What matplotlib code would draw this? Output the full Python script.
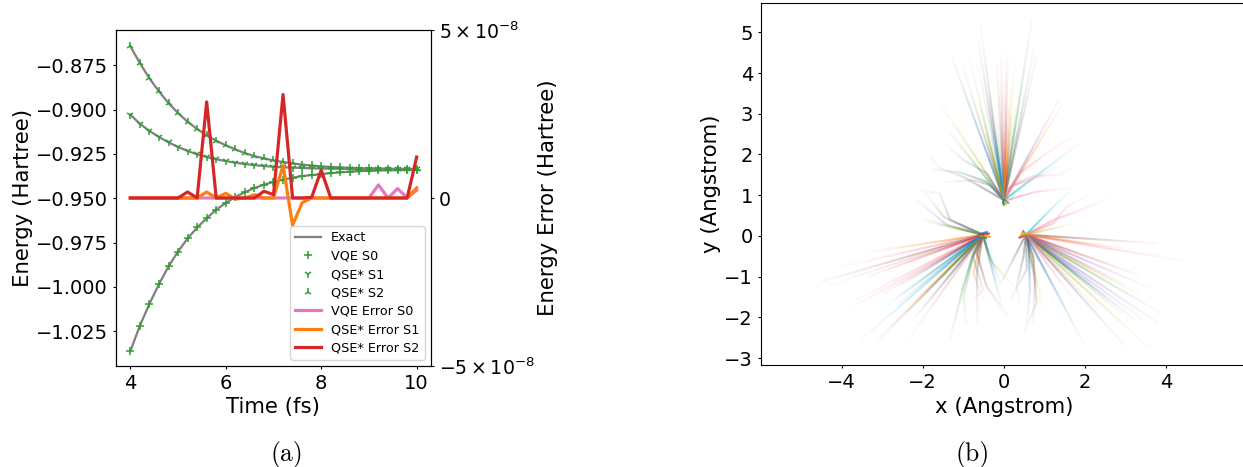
import numpy as np
import matplotlib
matplotlib.use("Agg")
import matplotlib.pyplot as plt
from matplotlib.collections import LineCollection
from matplotlib.colors import to_rgb

# ---------- panel (a) data ----------
time_fs = [4.0, 4.2, 4.4, 4.6, 4.8, 5.0, 5.2, 5.4, 5.6, 5.8, 6.0, 6.2, 6.4, 6.6, 6.8, 7.0,
           7.2, 7.4, 7.6, 7.8, 8.0, 8.2, 8.4, 8.6, 8.8, 9.0, 9.2, 9.4, 9.6, 9.8, 10.0]
energy_s0 = [-1.0363, -1.0220, -1.0096, -0.9985, -0.9885, -0.9801, -0.9727, -0.9665, -0.9613, -0.9564,
             -0.9527, -0.9493, -0.9466, -0.9442, -0.9423, -0.9408, -0.9395, -0.9384, -0.9375, -0.9369,
             -0.9364, -0.9358, -0.9354, -0.9350, -0.9347, -0.9345, -0.9343, -0.9342, -0.9341, -0.9340, -0.9339]
energy_s1 = [-0.9028, -0.9079, -0.9120, -0.9154, -0.9184, -0.9211, -0.9233, -0.9252, -0.9267, -0.9280,
             -0.9290, -0.9299, -0.9307, -0.9313, -0.9318, -0.9322, -0.9325, -0.9327, -0.9329, -0.9331,
             -0.9332, -0.9333, -0.9334, -0.9334, -0.9335, -0.9335, -0.9335, -0.9336, -0.9336, -0.9336, -0.9336]
energy_s2 = [-0.8641, -0.8737, -0.8823, -0.8897, -0.8963, -0.9019, -0.9068, -0.9109, -0.9145, -0.9175,
             -0.9201, -0.9224, -0.9245, -0.9262, -0.9275, -0.9286, -0.9295, -0.9303, -0.9310, -0.9315,
             -0.9320, -0.9323, -0.9326, -0.9328, -0.9330, -0.9331, -0.9332, -0.9333, -0.9334, -0.9334, -0.9335]
error_s0 = [0, 0, 0, 0, 0, 0, 0, 0, 0, 0, 0, 0, 0, 0, 0, 0,
            0, 0, 0, 0, 0, 0, 0, 0, 0, 0, 0.39e-8, 0, 0.28e-8, 0, 0.23e-8]
error_s1 = [0, 0, 0, 0, 0, 0, 0, 0, 0.18e-8, 0, 0.14e-8, -0.03e-8, 0, 0.10e-8, 0, 0,
            0.97e-8, -0.81e-8, -0.14e-8, 0, 0, 0, 0, 0, 0, 0, 0, 0, 0, 0, 0.30e-8]
error_s2 = [0, 0, 0, 0, 0, 0, 0.18e-8, 0, 2.86e-8, 0, 0, 0, 0, 0, 0.20e-8, 0.10e-8,
            3.08e-8, 0, 0, 0.02e-8, 0.83e-8, 0, 0, 0, 0, 0, 0, 0, 0, 0, 1.22e-8]
x_ticks_a = [4, 6, 8, 10]
y_ticks_a = [-1.025, -1.000, -0.975, -0.950, -0.925, -0.900, -0.875]
y_ticks_err = [-5e-8, 0, 5e-8]
y_tick_err_labels = [r"$-5\times10^{-8}$", "0", r"$5\times10^{-8}$"]
legend_labels = ["Exact", "VQE S0", "QSE* S1", "QSE* S2", "VQE Error S0", "QSE* Error S1", "QSE* Error S2"]

# ---------- panel (b) data: (x, y) read along each trajectory, outer end first ----------
origin_top = (0.0, 0.88)
origin_left = (-0.52, 0.03)
origin_right = (0.54, 0.03)

top_paths = [
    [(-1.29, 4.40)], [(-0.99, 4.09)], [(-0.86, 4.38)], [(-0.63, 4.77)], [(-0.59, 5.22)], [(-0.67, 4.36)],
    [(-0.18, 4.28)], [(-0.07, 4.48)], [(0.03, 4.40)], [(0.09, 4.36)], [(0.25, 4.06)], [(0.68, 5.30)],
    [(0.75, 4.63)], [(0.80, 4.40)], [(1.36, 3.35)], [(1.44, 3.24)], [(-1.56, 3.24)], [(-1.35, 2.56)],
    [(-1.45, 2.26), (-1.00, 1.87), (-0.43, 1.54)],
    [(-1.82, 1.64), (-1.08, 1.56), (-0.43, 1.33)],
    [(-1.45, 1.32), (-0.76, 1.37), (-0.34, 1.25)],
    [(-1.82, 1.95), (-1.58, 1.66), (-1.00, 1.45)],
    [(1.67, 2.42), (1.05, 2.03), (0.39, 1.54)],
    [(1.86, 2.27)],
    [(1.36, 1.72), (0.80, 1.42), (0.15, 1.21)],
    [(1.71, 1.70), (1.38, 1.50), (0.72, 1.47), (0.15, 1.21)],
    [(1.67, 1.17), (0.80, 1.09), (0.15, 0.90)],
    [(-0.40, 3.20)], [(-0.35, 3.50)], [(-0.60, 3.20)], [(-0.10, 3.60)], [(0.10, 3.20)], [(0.30, 3.20)],
    [(-0.45, 2.50)], [(0.20, 3.00)], [(0.15, 3.50)], [(-0.20, 3.00)],
]
top_colors = ["blue", "gray", "olive", "brown", "gray", "ltblue", "orange", "gray", "pink", "red", "olive", "green",
              "gray", "gray", "purple", "orange", "olive", "green", "purple", "green", "purple", "gray", "pink",
              "cyan", "pink", "pink", "pink", "cyan", "blue", "green", "purple", "orange", "gray", "orange", "red",
              "orange", "cyan"]

left_paths = [
    [(-3.34, -0.40)], [(-4.11, -0.78)], [(-4.49, -1.12)], [(-4.27, -1.20)], [(-3.38, -1.01)], [(-3.83, -1.80)],
    [(-3.67, -1.59)], [(-2.97, -1.42)], [(-3.53, -2.55)], [(-3.18, -2.61)], [(-3.05, -2.53)], [(-2.37, -2.55)],
    [(-2.68, -1.57)], [(-2.64, -1.69)], [(-2.05, -1.86)],
    [(-1.35, -2.59), (-1.00, -1.24), (-0.76, -0.43)],
    [(-0.92, -2.17), (-1.00, -1.49), (-0.76, -0.51)],
    [(-0.65, -2.14), (-0.67, -0.92)],
    [(-0.47, -1.65), (-0.76, -0.92)],
    [(-0.76, -1.57), (-0.51, -1.33), (-0.76, -0.51)],
    [(0.07, -1.94), (-0.43, -1.24), (-0.67, -0.43)],
    [(-0.06, -1.69)],
    [(0.27, -1.28), (-0.34, -0.59)],
    [(-0.10, -1.16), (-0.43, -0.26)],
    [(-2.15, 0.88), (-1.41, 0.27)],
    [(-1.95, 1.09), (-1.49, 0.47)],
    [(-1.99, 1.09), (-1.58, 1.05), (-1.33, 0.39)],
    [(-2.03, 0.43)], [(-1.90, 0.35)],
    [(-2.90, -1.70)], [(-2.20, -1.60)], [(-2.40, -1.90)], [(-2.20, -2.00)], [(-2.50, -1.20)],
]
left_colors = ["orange", "pink", "brown", "pink", "red", "pink", "pink", "red", "cyan", "orange", "gray", "pink",
               "gray", "blue", "green", "green", "gray", "gray", "orange", "gray", "brown", "blue", "olive", "blue",
               "purple", "green", "purple", "olive", "green", "cyan", "orange", "green", "purple", "blue"]

right_paths = [
    [(3.78, -0.18)], [(4.50, -0.63)], [(3.31, -0.96)], [(3.60, -1.28)], [(3.84, -1.88)], [(3.80, -2.14)],
    [(3.43, -2.06)], [(3.23, -2.06)], [(2.98, -2.70)], [(3.58, -2.76)], [(1.97, -2.65)], [(1.75, -1.61)],
    [(0.97, -1.78)],
    [(0.72, -2.14), (0.76, -1.08)],
    [(0.49, -2.37), (0.80, -1.65), (0.72, -0.51)],
    [(0.56, -2.14), (0.64, -1.33), (0.60, -0.10)],
    [(0.16, -1.55), (0.56, -0.83)],
    [(0.39, -1.65), (0.31, -1.24), (0.48, -0.51)],
    [(-0.14, -1.28)],
    [(1.63, 1.13)],
    [(2.08, 1.01), (1.54, 0.72), (1.22, 0.31)],
    [(2.57, 0.92), (1.79, 0.60), (1.22, 0.39)],
    [(1.75, 0.31)], [(3.35, -1.45)], [(3.19, -0.34)], [(2.90, -1.90)], [(2.50, -1.50)], [(2.30, -1.80)],
    [(3.00, -1.20)],
]
right_colors = ["brown", "pink", "red", "purple", "green", "purple", "purple", "blue", "gray", "olive", "blue", "pink",
                "olive", "gray", "brown", "blue", "gray", "gray", "gray", "cyan", "pink", "pink", "olive", "orange",
                "orange", "green", "gray", "pink", "purple"]

# short strokes at the three cluster tips: (x0, y0, x1, y1)
tip_strokes = [(-0.63, 0.02, -0.35, 0.06), (-0.60, 0.00, -0.33, -0.02), (-0.58, 0.05, -0.40, 0.10),
               (-0.55, -0.02, -0.42, -0.06), (0.56, 0.03, 0.36, -0.05), (0.55, 0.01, 0.40, 0.02),
               (0.52, 0.05, 0.46, 0.14), (0.60, 0.04, 0.42, 0.08), (0.00, 0.90, -0.03, 0.78),
               (0.02, 0.88, 0.12, 0.80), (-0.02, 0.86, 0.00, 0.74), (0.03, 0.85, 0.05, 0.76)]
tip_colors = ["red", "orange", "blue", "green", "red", "orange", "gray", "olive", "blue", "gray", "green", "olive"]

x_ticks_b = [-4, -2, 0, 2, 4]
y_ticks_b = [-3, -2, -1, 0, 1, 2, 3, 4, 5]

# ---------- styling ----------
W, H = 1243, 467
palette = {"blue": "#1f77b4", "ltblue": "#9ec7e6", "orange": "#ff7f0e", "green": "#2ca02c", "red": "#d62728",
           "purple": "#9467bd", "brown": "#8c564b", "pink": "#f28aa0", "gray": "#7f7f7f", "olive": "#bcbd22",
           "cyan": "#17becf"}
LABEL = 15.3
plt.rcParams.update({"font.size": 14, "font.family": "DejaVu Sans",
                     "xtick.major.size": 2.5, "ytick.major.size": 2.5,
                     "xtick.major.pad": 3.4, "ytick.major.pad": 3.2})
fig = plt.figure(figsize=(W / 100, H / 100), dpi=100)


def axes_px(x0, x1, top, bottom):
    return fig.add_axes([x0 / W, 1 - bottom / H, (x1 - x0) / W, (bottom - top) / H])


# ---------- panel (a) ----------
ax = axes_px(116, 431, 30, 366)
ax2 = ax.twinx()
exact = None
for curve in (energy_s0, energy_s1, energy_s2):
    exact, = ax.plot(time_fs, curve, color="#7f7f7f", lw=1.6, zorder=1)
ms_kw = dict(ls="none", color="#2ca02c", ms=6, mew=1.1, zorder=2)
m0, = ax.plot(time_fs, energy_s0, marker="+", **ms_kw)
m1, = ax.plot(time_fs, energy_s1, marker="1", **ms_kw)
m2, = ax.plot(time_fs, energy_s2, marker="2", **ms_kw)
e0, = ax2.plot(time_fs, error_s0, color="#e377c2", lw=2.3)
e1, = ax2.plot(time_fs, error_s1, color="#ff7f0e", lw=2.3)
e2, = ax2.plot(time_fs, error_s2, color="#d62728", lw=2.3)
ax.set_xlim(3.7, 10.3)
ax.set_ylim(-1.0447, -0.855)
ax.set_xticks(x_ticks_a)
ax.set_yticks(y_ticks_a)
ax.set_yticklabels([f"\u2212{abs(v):.3f}" for v in y_ticks_a])
ax.set_xlabel("Time (fs)", fontsize=LABEL)
ax.xaxis.set_label_coords((273 - 116) / 315, (366 - 407) / 336)
ax.xaxis.label.set_va("center")
ax.set_ylabel("Energy (Hartree)", fontsize=LABEL)
ax.yaxis.set_label_coords((23 - 116) / 315, 0.5)
ax.yaxis.label.set_va("center")
ax2.set_ylim(-5e-8, 5e-8)
ax2.set_yticks(y_ticks_err)
ax2.set_yticklabels(y_tick_err_labels, fontsize=13.6)
ax2.set_ylabel("Energy Error (Hartree)", fontsize=LABEL)
ax2.yaxis.set_label_coords((548 - 116) / 315, 0.5)
ax2.yaxis.label.set_va("center")
ax2.legend([exact, m0, m1, m2, e0, e1, e2], legend_labels, loc="lower right", fontsize=9.2, labelspacing=0.42)

# ---------- panel (b) ----------
bx = axes_px(761, 1243, 3, 365)
bx.spines["right"].set_visible(False)
for origin, paths, colors in ((origin_top, top_paths, top_colors),
                              (origin_left, left_paths, left_colors),
                              (origin_right, right_paths, right_colors)):
    for path, cname in zip(paths, colors):
        pts = np.array(path + [origin], dtype=float)
        # Fine sub-division only carries the fade along each read polyline.
        seg_len = np.hypot(*np.diff(pts, axis=0).T)
        cum = np.r_[0, np.cumsum(seg_len)]
        s = np.linspace(0, cum[-1], 60)
        line = np.c_[np.interp(s, cum, pts[:, 0]), np.interp(s, cum, pts[:, 1])]
        segs = np.stack([line[:-1], line[1:]], axis=1)
        frac = (s[:-1] + s[1:]) / 2 / cum[-1]
        rgb = to_rgb(palette[cname])
        rgba = [(*rgb, 0.04 + 0.72 * f ** 1.6) for f in frac]
        bx.add_collection(LineCollection(segs, colors=rgba, linewidths=1.5, capstyle="butt"))
for stroke, cname in zip(tip_strokes, tip_colors):
    bx.plot(stroke[0::2], stroke[1::2], color=palette[cname], lw=1.5, alpha=0.85, solid_capstyle="butt")
bx.set_xlim(-5.985, 5.887)
bx.set_ylim(-3.17, 5.72)
bx.set_xticks(x_ticks_b)
bx.set_yticks(y_ticks_b)
bx.set_xlabel("x (Angstrom)", fontsize=LABEL)
bx.xaxis.set_label_coords((1004 - 761) / 482, (365 - 407) / 362)
bx.xaxis.label.set_va("center")
bx.set_ylabel("y (Angstrom)", fontsize=LABEL)
bx.yaxis.set_label_coords((711 - 761) / 482, (365 - 184) / 362)
bx.yaxis.label.set_va("center")

# ---------- captions ----------
fig.text(287 / W, 1 - 454.5 / H, "(a)", family="cmr10", fontsize=18.5, ha="center", va="center")
fig.text(973 / W, 1 - 454.5 / H, "(b)", family="cmr10", fontsize=18.5, ha="center", va="center")

fig.savefig("out.png", dpi=100)
